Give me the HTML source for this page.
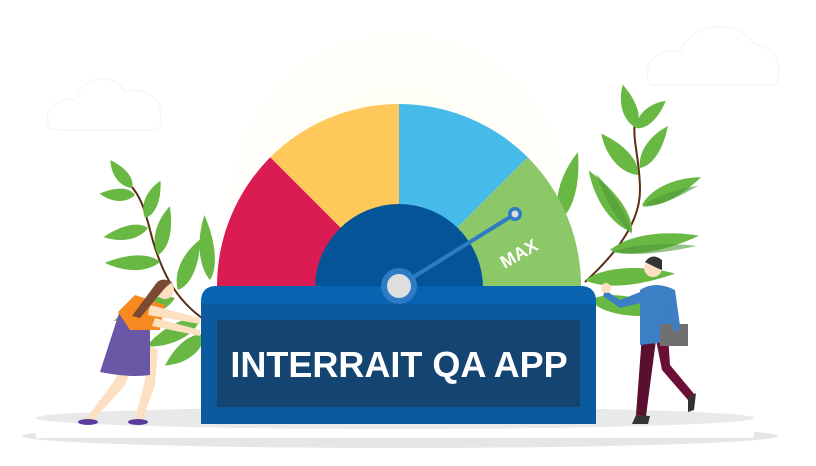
<!DOCTYPE html>
<html><head><meta charset="utf-8"><style>
html,body{margin:0;padding:0;background:#fff}
svg{display:block}
</style></head><body>
<svg width="816" height="466" viewBox="0 0 816 466" xmlns="http://www.w3.org/2000/svg">
<defs>
<radialGradient id="glow" cx="399" cy="200" r="230" gradientUnits="userSpaceOnUse">
<stop offset="0" stop-color="#fffbe0"/><stop offset="1" stop-color="#ffffff" stop-opacity="0"/>
</radialGradient>
<path id="leaf" d="M0,0 C10,-8 30,-10 50,-4 C30,4 10,6 0,0 Z"/>
</defs>
<rect width="816" height="466" fill="#fff"/>
<circle cx="399" cy="230" r="240" fill="url(#glow)"/>
<!-- clouds -->
<g fill="#fff" stroke="#f3f3f3" stroke-width="1">
<path d="M50,128 C40,110 60,95 75,100 C82,75 115,72 125,92 C145,85 165,100 160,118 C165,128 155,132 145,130 L60,130 Z"/>
<path d="M650,85 C640,65 660,45 680,52 C690,25 735,15 755,45 C775,45 785,70 775,85 Z"/>
</g>
<!-- platform -->
<ellipse cx="400" cy="436" rx="378" ry="12" fill="#e6e6e6"/>
<rect x="36" y="418" width="718" height="20" fill="#fff"/>
<ellipse cx="395" cy="418" rx="359" ry="11" fill="#e9e9e9"/>
<!-- right branch -->
<g>
<path d="M585,282 C620,250 640,220 640,190 C640,160 632,140 635,120" stroke="#5a2e12" stroke-width="2" fill="none"/>
<g fill="#6ab844">
<use href="#leaf" transform="translate(636,128) rotate(-100) scale(0.9,1.4)"/>
<use href="#leaf" transform="translate(636,128) rotate(-35) scale(0.8,1.3)"/>
<use href="#leaf" transform="translate(640,168) rotate(-50) scale(1.0,1.4)"/>
<use href="#leaf" transform="translate(638,175) rotate(-125) scale(1.1,1.6)"/>
<use href="#leaf" transform="translate(642,205) rotate(-20) scale(1.3,1.5)"/>
<use href="#leaf" transform="translate(632,232) rotate(-120) scale(1.5,1.7)"/>
<use href="#leaf" transform="translate(610,250) rotate(-5) scale(1.8,1.6)"/>
<use href="#leaf" transform="translate(585,280) rotate(0) scale(1.8,1.6)"/>
<use href="#leaf" transform="translate(590,300) rotate(15) scale(1.6,1.8)"/>
<use href="#leaf" transform="translate(560,220) rotate(-70) scale(1.4,1.6)"/>
</g>
<g fill="#4f9a36" opacity="0.6">
<use href="#leaf" transform="translate(612,252) rotate(-2) scale(1.7,0.8)"/>
<use href="#leaf" transform="translate(642,207) rotate(-18) scale(1.2,0.7)"/>
<use href="#leaf" transform="translate(632,234) rotate(-118) scale(1.4,0.8)"/>
</g>
</g>
<!-- left branch -->
<g>
<path d="M205,320 C175,300 160,270 150,230 C145,210 140,195 130,185" stroke="#5a2e12" stroke-width="2" fill="none"/>
<g fill="#6ab844">
<use href="#leaf" transform="translate(132,188) rotate(-120) scale(0.7,1.2)"/>
<use href="#leaf" transform="translate(135,195) rotate(-170) scale(0.7,1.2)"/>
<use href="#leaf" transform="translate(145,218) rotate(-60) scale(0.8,1.3)"/>
<use href="#leaf" transform="translate(148,228) rotate(-185) scale(0.9,1.3)"/>
<use href="#leaf" transform="translate(158,255) rotate(-70) scale(1.0,1.4)"/>
<use href="#leaf" transform="translate(160,262) rotate(-175) scale(1.1,1.4)"/>
<use href="#leaf" transform="translate(178,290) rotate(-60) scale(1.1,1.5)"/>
<use href="#leaf" transform="translate(175,298) rotate(-195) scale(1.3,1.5)"/>
<use href="#leaf" transform="translate(200,320) rotate(-200) scale(1.2,1.6)"/>
<use href="#leaf" transform="translate(205,335) rotate(150) scale(1.0,1.6)"/>
<use href="#leaf" transform="translate(210,280) rotate(-90) scale(1.3,1.4)"/>
</g>
</g>
<!-- gauge -->
<path d="M399,286 L217,286 A182,182 0 0 1 270.3,157.3 Z" fill="#da1c52"/>
<path d="M399,286 L270.3,157.3 A182,182 0 0 1 399,104 Z" fill="#fec95a"/>
<path d="M399,286 L399,104 A182,182 0 0 1 527.7,157.3 Z" fill="#46bbea"/>
<path d="M399,286 L527.7,157.3 A182,182 0 0 1 581,286 Z" fill="#8cc867"/>
<path d="M315,288 A84,84 0 0 1 483,288 Z" fill="#045597"/>
<text x="522" y="259" transform="rotate(-30 522 259)" text-anchor="middle" font-family="Liberation Sans, sans-serif" font-weight="bold" font-size="18" fill="#fff">MAX</text>
<line x1="399" y1="286" x2="515" y2="214" stroke="#2d7bc4" stroke-width="4"/>
<circle cx="515" cy="214" r="7" fill="#2d7bc4"/><circle cx="515" cy="214" r="3.5" fill="#ddd"/>
<!-- box -->
<path d="M201,424 L201,302 Q201,286 217,286 L580,286 Q596,286 596,302 L596,424 Z" fill="#0a5a9d"/>
<path d="M201,304 L201,302 Q201,286 217,286 L580,286 Q596,286 596,302 L596,304 Z" fill="#0863b1"/>
<rect x="217" y="320" width="363" height="87" fill="#144572"/>
<circle cx="399" cy="286" r="18" fill="#2d7bc4"/>
<circle cx="399" cy="286" r="12" fill="#dedede"/>
<text x="399" y="377" text-anchor="middle" font-family="Liberation Sans, sans-serif" font-weight="bold" font-size="36" fill="#fff">INTERRAIT QA APP</text>
<!-- woman -->
<g>
<path d="M130,345 L115,380 L85,420 L92,422 L125,385 L135,360 Z" fill="#fde0c2"/>
<path d="M148,345 L145,380 L135,420 L142,421 L155,385 L158,350 Z" fill="#fde0c2"/>
<path d="M120,310 L150,330 L150,375 Q130,378 100,372 Z" fill="#6a57a6"/>
<path d="M118,312 L135,295 L165,305 L160,330 L130,330 Z" fill="#f6891f"/>
<path d="M150,305 L200,318 L200,324 L148,315 Z" fill="#fde0c2"/>
<path d="M155,318 L200,330 L200,336 L152,326 Z" fill="#fde0c2"/>
<circle cx="165" cy="290" r="9" fill="#fde0c2"/>
<path d="M155,285 Q160,276 172,282 L165,288 L140,318 L132,316 Z" fill="#7b4a33"/>
<ellipse cx="88" cy="422" rx="10" ry="3" fill="#5a3e9a"/>
<ellipse cx="138" cy="422" rx="10" ry="3" fill="#5a3e9a"/>
</g>
<!-- man -->
<g>
<path d="M642,335 L636,415 L646,416 L656,340 Z" fill="#5b0f2e"/>
<path d="M655,335 L662,370 L688,400 L695,395 L670,365 L668,335 Z" fill="#6a0f36"/>
<path d="M640,290 Q655,280 675,290 L682,340 L640,345 Z" fill="#3c7fc4"/>
<path d="M640,292 L620,300 L605,290 L603,296 L620,308 L645,302 Z" fill="#3c7fc4"/>
<circle cx="606" cy="288" r="5" fill="#fde0c2"/>
<rect x="660" y="324" width="28" height="22" fill="#707070"/>
<path d="M672,292 L680,330 L674,332 L666,300 Z" fill="#3c7fc4"/>
<circle cx="653" cy="268" r="9" fill="#fde0c2"/>
<path d="M645,262 Q652,252 662,260 L662,270 L657,268 Z" fill="#333"/>
<path d="M636,415 L650,416 L648,424 L632,424 Z" fill="#333"/>
<path d="M688,398 L696,393 L694,410 L688,412 Z" fill="#333"/>
</g>
</svg>
</body></html>
